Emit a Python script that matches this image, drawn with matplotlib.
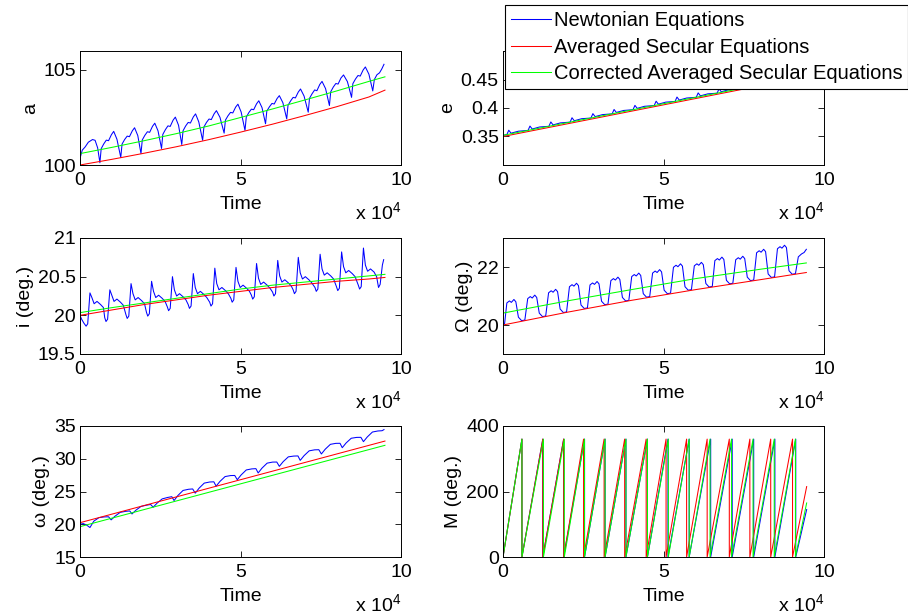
import matplotlib
matplotlib.use("Agg")
import matplotlib.pyplot as plt

plt.rcParams['font.family'] = ['Liberation Sans', 'DejaVu Sans']
plt.rcParams['mathtext.fontset'] = 'custom'
plt.rcParams['mathtext.rm'] = 'Liberation Sans'
plt.rcParams['mathtext.it'] = 'Liberation Sans:italic'

# ---------------- data (time in units of 1e4) ----------------
series_labels = ['Newtonian Equations', 'Averaged Secular Equations',
                 'Corrected Averaged Secular Equations']

# semi-major axis a
a_newton_t = [0, 0.07, 0.16, 0.26, 0.39, 0.47, 0.55, 0.62,
              0.66, 0.74, 0.82, 0.89, 0.98, 1.05, 1.15, 1.27,
              1.31, 1.39, 1.47, 1.54, 1.63, 1.70, 1.80, 1.90,
              1.94, 2.02, 2.10, 2.17, 2.26, 2.33, 2.43, 2.54,
              2.58, 2.66, 2.74, 2.81, 2.90, 2.97, 3.07, 3.17,
              3.21, 3.29, 3.37, 3.44, 3.53, 3.60, 3.70, 3.82,
              3.86, 3.94, 4.02, 4.09, 4.18, 4.25, 4.36, 4.49,
              4.53, 4.61, 4.69, 4.76, 4.85, 4.92, 5.02, 5.14,
              5.18, 5.26, 5.34, 5.41, 5.50, 5.57, 5.67, 5.78,
              5.82, 5.90, 5.98, 6.05, 6.14, 6.21, 6.32, 6.44,
              6.48, 6.56, 6.64, 6.71, 6.80, 6.87, 6.98, 7.11,
              7.15, 7.23, 7.31, 7.38, 7.47, 7.54, 7.65, 7.77,
              7.81, 7.89, 7.97, 8.04, 8.13, 8.21, 8.33, 8.46,
              8.50, 8.58, 8.66, 8.73, 8.82, 8.89, 9.00, 9.12,
              9.17, 9.25, 9.33, 9.40, 9.47]
a_newton = [100.35, 100.78, 100.95, 101.20, 101.34, 101.30, 100.90, 100.12,
            100.86, 101.11, 101.31, 101.28, 101.60, 101.77, 101.36, 100.40,
            101.10, 101.34, 101.52, 101.49, 101.80, 101.96, 101.55, 100.60,
            101.32, 101.56, 101.75, 101.72, 102.04, 102.20, 101.80, 100.87,
            101.61, 101.86, 102.06, 102.03, 102.36, 102.52, 102.09, 101.08,
            101.80, 102.05, 102.24, 102.21, 102.53, 102.69, 102.27, 101.30,
            102.00, 102.24, 102.42, 102.39, 102.70, 102.86, 102.51, 101.68,
            102.36, 102.59, 102.77, 102.74, 103.05, 103.20, 102.79, 101.82,
            102.52, 102.76, 102.94, 102.91, 103.22, 103.38, 103.02, 102.17,
            102.84, 103.06, 103.24, 103.21, 103.50, 103.65, 103.28, 102.43,
            103.14, 103.37, 103.56, 103.53, 103.84, 104.00, 103.63, 102.78,
            103.51, 103.75, 103.95, 103.91, 104.24, 104.40, 104.02, 103.13,
            103.85, 104.10, 104.29, 104.26, 104.58, 104.74, 104.39, 103.56,
            104.28, 104.52, 104.71, 104.68, 105.00, 105.16, 104.78, 103.90,
            104.50, 104.75, 104.85, 105.05, 105.30]
a_sec_t = [0, 1, 2, 3, 4, 5, 6, 7, 8, 9, 9.5]
a_avg = [100.0, 100.30, 100.62, 100.96, 101.33, 101.73, 102.15, 102.60, 103.07, 103.58, 103.94]
a_corr = [100.6, 100.93, 101.28, 101.65, 102.05, 102.50, 102.95, 103.42, 103.90, 104.40, 104.64]

# eccentricity e
e_newton_t = [0, 0.12, 0.18, 0.25, 0.48,
              0.78, 0.84, 0.91, 1.14,
              1.43, 1.49, 1.56, 1.79,
              2.09, 2.15, 2.22, 2.45,
              2.74, 2.80, 2.87, 3.10,
              3.40, 3.46, 3.53, 3.76,
              4.05, 4.11, 4.18, 4.41,
              4.71, 4.77, 4.84, 5.07,
              5.36, 5.42, 5.49, 5.72,
              6.02, 6.08, 6.15, 6.38,
              6.67, 6.73, 6.80, 7.03,
              7.33, 7.39, 7.46, 7.69,
              7.98, 8.04, 8.11, 8.34,
              8.64, 8.70, 8.77, 9.00,
              9.29, 9.35, 9.42, 9.47]
e_newton = [0.3520, 0.3533, 0.3610, 0.3558, 0.3593,
            0.3607, 0.3683, 0.3631, 0.3667,
            0.3679, 0.3755, 0.3703, 0.3739,
            0.3752, 0.3829, 0.3776, 0.3812,
            0.3824, 0.3901, 0.3849, 0.3884,
            0.3897, 0.3974, 0.3922, 0.3957,
            0.3970, 0.4046, 0.3994, 0.4030,
            0.4043, 0.4119, 0.4067, 0.4103,
            0.4115, 0.4192, 0.4139, 0.4175,
            0.4188, 0.4265, 0.4213, 0.4248,
            0.4260, 0.4337, 0.4285, 0.4320,
            0.4334, 0.4410, 0.4358, 0.4394,
            0.4406, 0.4482, 0.4430, 0.4466,
            0.4479, 0.4556, 0.4503, 0.4539,
            0.4551, 0.4628, 0.4576, 0.4571]
e_sec_t = [0, 3, 6, 9.5]
e_avg = [0.350, 0.3833, 0.4166, 0.4555]
e_corr = [0.352, 0.3853, 0.4186, 0.4574]

# inclination i (deg.)
i_newton_t = [0, 0.05, 0.12,
              0.19, 0.24, 0.31, 0.37, 0.44, 0.53, 0.64, 0.73, 0.77,
              0.81, 0.86, 0.93, 0.99, 1.06, 1.15, 1.26, 1.35, 1.43,
              1.47, 1.52, 1.59, 1.65, 1.72, 1.81, 1.92, 2.01, 2.07,
              2.11, 2.16, 2.23, 2.29, 2.36, 2.45, 2.56, 2.65, 2.72,
              2.76, 2.81, 2.88, 2.94, 3.01, 3.10, 3.21, 3.30, 3.37,
              3.41, 3.46, 3.53, 3.59, 3.66, 3.75, 3.86, 3.95, 4.04,
              4.08, 4.13, 4.20, 4.26, 4.33, 4.42, 4.53, 4.62, 4.70,
              4.74, 4.79, 4.86, 4.92, 4.99, 5.08, 5.19, 5.28, 5.34,
              5.38, 5.43, 5.50, 5.56, 5.63, 5.72, 5.83, 5.92, 6.00,
              6.04, 6.09, 6.16, 6.22, 6.29, 6.38, 6.49, 6.58, 6.64,
              6.68, 6.73, 6.80, 6.86, 6.93, 7.02, 7.13, 7.22, 7.32,
              7.36, 7.41, 7.48, 7.54, 7.61, 7.70, 7.81, 7.90, 7.99,
              8.03, 8.08, 8.15, 8.21, 8.28, 8.37, 8.48, 8.57, 8.67,
              8.71, 8.76, 8.83, 8.89, 8.96, 9.05, 9.16, 9.24,
              9.30, 9.35, 9.42, 9.46]
i_newton = [20.00, 19.95, 19.90,
            19.86, 19.89, 20.29, 20.23, 20.15, 20.18, 20.14, 20.10, 19.97,
            19.92, 19.95, 20.33, 20.26, 20.18, 20.21, 20.17, 20.13, 20.01,
            19.96, 19.99, 20.41, 20.28, 20.20, 20.23, 20.19, 20.15, 20.04,
            19.99, 20.02, 20.44, 20.31, 20.23, 20.26, 20.22, 20.18, 20.11,
            20.06, 20.09, 20.50, 20.33, 20.25, 20.28, 20.24, 20.20, 20.14,
            20.09, 20.12, 20.54, 20.36, 20.28, 20.31, 20.27, 20.23, 20.17,
            20.12, 20.15, 20.61, 20.41, 20.33, 20.36, 20.32, 20.28, 20.22,
            20.17, 20.20, 20.62, 20.44, 20.36, 20.39, 20.35, 20.31, 20.26,
            20.21, 20.24, 20.67, 20.48, 20.40, 20.43, 20.39, 20.35, 20.30,
            20.25, 20.28, 20.71, 20.51, 20.43, 20.46, 20.42, 20.38, 20.33,
            20.28, 20.31, 20.75, 20.55, 20.47, 20.50, 20.46, 20.42, 20.36,
            20.31, 20.34, 20.79, 20.60, 20.52, 20.55, 20.51, 20.47, 20.37,
            20.32, 20.35, 20.82, 20.63, 20.55, 20.58, 20.54, 20.50, 20.39,
            20.34, 20.37, 20.87, 20.65, 20.57, 20.60, 20.56, 20.50,
            20.36, 20.40, 20.65, 20.72]
i_sec_t = [0, 1, 2, 3, 4, 5, 6, 7, 8, 9, 9.5]
i_avg = [20.0, 20.07, 20.14, 20.20, 20.26, 20.31, 20.36, 20.40, 20.44, 20.47, 20.49]
i_corr = [20.035, 20.10, 20.16, 20.22, 20.28, 20.34, 20.39, 20.43, 20.47, 20.51, 20.53]

# longitude of node Omega (deg.)
O_newton_t = [0, 0.05,
              0.12, 0.20, 0.26, 0.34, 0.40, 0.48, 0.58, 0.68,
              0.77, 0.85, 0.91, 0.99, 1.05, 1.13, 1.23, 1.33,
              1.42, 1.50, 1.56, 1.64, 1.70, 1.78, 1.88, 1.98,
              2.07, 2.15, 2.21, 2.29, 2.35, 2.43, 2.53, 2.63,
              2.71, 2.79, 2.85, 2.93, 2.99, 3.07, 3.17, 3.27,
              3.36, 3.44, 3.50, 3.58, 3.64, 3.72, 3.82, 3.92,
              4.01, 4.09, 4.15, 4.23, 4.29, 4.37, 4.47, 4.57,
              4.66, 4.74, 4.80, 4.88, 4.94, 5.02, 5.12, 5.22,
              5.31, 5.39, 5.45, 5.53, 5.59, 5.67, 5.77, 5.87,
              5.96, 6.04, 6.10, 6.18, 6.24, 6.32, 6.42, 6.52,
              6.60, 6.68, 6.74, 6.82, 6.88, 6.96, 7.06, 7.16,
              7.25, 7.33, 7.39, 7.47, 7.53, 7.61, 7.71, 7.81,
              7.90, 7.98, 8.04, 8.12, 8.18, 8.26, 8.36, 8.46,
              8.55, 8.63, 8.69, 8.77, 8.83, 8.91, 9.01, 9.11,
              9.20, 9.30, 9.38, 9.45]
O_newton = [20.00, 20.05,
            20.76, 20.83, 20.78, 20.88, 20.80, 20.27, 20.15, 20.17,
            20.91, 20.98, 20.93, 21.03, 20.95, 20.41, 20.29, 20.31,
            21.11, 21.18, 21.13, 21.23, 21.15, 20.55, 20.43, 20.45,
            21.32, 21.39, 21.34, 21.44, 21.36, 20.69, 20.57, 20.59,
            21.38, 21.45, 21.40, 21.50, 21.42, 20.82, 20.70, 20.72,
            21.53, 21.60, 21.55, 21.65, 21.57, 20.95, 20.83, 20.85,
            21.67, 21.74, 21.69, 21.79, 21.71, 21.08, 20.96, 20.98,
            21.79, 21.86, 21.81, 21.91, 21.83, 21.20, 21.08, 21.10,
            21.99, 22.06, 22.01, 22.11, 22.03, 21.32, 21.20, 21.22,
            22.04, 22.11, 22.06, 22.16, 22.08, 21.43, 21.31, 21.33,
            22.22, 22.29, 22.24, 22.34, 22.26, 21.54, 21.42, 21.44,
            22.25, 22.32, 22.27, 22.37, 22.29, 21.65, 21.53, 21.55,
            22.49, 22.56, 22.51, 22.61, 22.53, 21.76, 21.64, 21.66,
            22.63, 22.70, 22.65, 22.75, 22.67, 21.87, 21.75, 21.77,
            22.35, 22.45, 22.50, 22.61]
O_sec_t = [0, 2, 4, 6, 8, 9.45]
O_avg = [20.0, 20.44, 20.85, 21.22, 21.56, 21.81]
O_corr = [20.41, 20.83, 21.22, 21.60, 21.92, 22.14]

# argument of periapsis omega (deg.)
w_newton_t = [0, 0.10, 0.20,
              0.31, 0.43, 0.59, 0.76, 0.89,
              0.97, 1.09, 1.25, 1.42, 1.55,
              1.62, 1.74, 1.90, 2.07, 2.20,
              2.28, 2.40, 2.56, 2.73, 2.86,
              2.93, 3.05, 3.21, 3.38, 3.51,
              3.59, 3.71, 3.87, 4.04, 4.17,
              4.24, 4.36, 4.52, 4.69, 4.82,
              4.90, 5.02, 5.18, 5.35, 5.48,
              5.55, 5.67, 5.83, 6.00, 6.13,
              6.21, 6.33, 6.49, 6.66, 6.79,
              6.86, 6.98, 7.14, 7.31, 7.44,
              7.52, 7.64, 7.80, 7.97, 8.10,
              8.17, 8.29, 8.45, 8.62, 8.75,
              8.83, 8.95, 9.11, 9.28, 9.41,
              9.47]
w_newton = [20.00, 20.10, 19.90,
            19.50, 20.47, 21.01, 21.12, 21.14,
            20.67, 21.23, 21.81, 21.97, 22.03,
            21.57, 22.14, 22.72, 22.91, 23.02,
            22.60, 23.22, 23.87, 24.09, 24.21,
            23.62, 24.39, 25.16, 25.34, 25.39,
            24.75, 25.51, 26.28, 26.45, 26.48,
            25.81, 26.54, 27.28, 27.43, 27.45,
            26.80, 27.53, 28.29, 28.45, 28.49,
            27.83, 28.57, 29.33, 29.49, 29.50,
            28.84, 29.56, 30.29, 30.41, 30.43,
            29.75, 30.47, 31.21, 31.36, 31.38,
            30.73, 31.46, 32.20, 32.35, 32.36,
            31.69, 32.41, 33.13, 33.26, 33.27,
            32.61, 33.33, 34.08, 34.24, 34.28,
            34.45]
w_sec_t = [0, 9.5]
w_avg = [20.24, 32.70]
w_corr = [19.63, 32.05]

# mean anomaly M (deg.): wrap times (value reaches 360 and restarts at 0)
M_wrap_newton = [0.59, 1.24, 1.89, 2.54, 3.18, 3.83, 4.50, 5.14, 5.80, 6.47, 7.14, 7.81, 8.47, 9.12]
M_wrap_avg = [0.59, 1.24, 1.89, 2.51, 3.15, 3.79, 4.46, 5.08, 5.72, 6.36, 7.05, 7.69, 8.34, 9.02]
M_wrap_corr = [0.59, 1.26, 1.91, 2.54, 3.18, 3.83, 4.50, 5.15, 5.80, 6.45, 7.12, 7.79, 8.45, 9.11]
M_start = 0.0
M_top = 360.0
M_end_t = 9.46
M_end_newton = 145.0
M_end_avg = 215.0
M_end_corr = 165.0

x_ticks = [0, 5, 10]
x_ticklabels = ['0', '5', '10']


def sawtooth(wraps, end_val):
    ts, vs = [0.0], [M_start]
    for w in wraps:
        ts += [w, w]
        vs += [M_top, 0.0]
    ts.append(M_end_t)
    vs.append(end_val)
    return ts, vs


# ---------------- figure ----------------
W, H = 908, 616
fig = plt.figure(figsize=(W / 100, H / 100), dpi=100)
fig.patch.set_facecolor('white')


def add_ax(x0, y0, x1, y1):
    return fig.add_axes([x0 / W, 1 - y1 / H, (x1 - x0) / W, (y1 - y0) / H])


FS = 14
LW = 0.75
C_N, C_A, C_C = (0, 0, 1), (1, 0, 0), (0, 1, 0)


def style(ax, ylabel, ylim, yticks, yticklabels=None):
    ax.set_xlim(0, 10)
    ax.set_ylim(*ylim)
    ax.set_xticks(x_ticks)
    ax.set_xticklabels(x_ticklabels)
    ax.set_yticks(yticks)
    if yticklabels is not None:
        ax.set_yticklabels(yticklabels)
    ax.tick_params(direction='in', top=True, right=True, length=4, width=0.6,
                   labelsize=FS)
    ax.tick_params(axis='x', pad=5)
    ax.tick_params(axis='y', pad=3)
    for s in ax.spines.values():
        s.set_linewidth(0.7)
    ax.set_xlabel('Time', fontsize=FS, labelpad=5)
    ax.set_ylabel(ylabel, fontsize=FS, labelpad=3)
    ax.annotate('x 10$^{4}$', xy=(1, 0), xycoords='axes fraction',
                xytext=(0, -47), textcoords='offset pixels',
                ha='right', va='center', fontsize=FS)


ax_a = add_ax(80, 51, 401, 165)
ax_e = add_ax(503, 51, 824, 165)
ax_i = add_ax(80, 238, 401, 354)
ax_O = add_ax(503, 238, 824, 354)
ax_w = add_ax(80, 426, 401, 557)
ax_M = add_ax(503, 426, 824, 557)

h1, = ax_a.plot(a_newton_t, a_newton, color=C_N, lw=LW)
h2, = ax_a.plot(a_sec_t, a_avg, color=C_A, lw=LW)
h3, = ax_a.plot(a_sec_t, a_corr, color=C_C, lw=LW)
style(ax_a, 'a', (100, 106), [100, 105])

ax_e.plot(e_newton_t, e_newton, color=C_N, lw=LW)
ax_e.plot(e_sec_t, e_avg, color=C_A, lw=LW)
ax_e.plot(e_sec_t, e_corr, color=C_C, lw=LW)
style(ax_e, 'e', (0.3, 0.5), [0.35, 0.4, 0.45], ['0.35', '0.4', '0.45'])

ax_i.plot(i_newton_t, i_newton, color=C_N, lw=LW)
ax_i.plot(i_sec_t, i_avg, color=C_A, lw=LW)
ax_i.plot(i_sec_t, i_corr, color=C_C, lw=LW)
style(ax_i, 'i (deg.)', (19.5, 21), [19.5, 20, 20.5, 21], ['19.5', '20', '20.5', '21'])

ax_O.plot(O_newton_t, O_newton, color=C_N, lw=LW)
ax_O.plot(O_sec_t, O_avg, color=C_A, lw=LW)
ax_O.plot(O_sec_t, O_corr, color=C_C, lw=LW)
style(ax_O, 'Ω (deg.)', (19, 23), [20, 22])

ax_w.plot(w_newton_t, w_newton, color=C_N, lw=LW)
ax_w.plot(w_sec_t, w_avg, color=C_A, lw=LW)
ax_w.plot(w_sec_t, w_corr, color=C_C, lw=LW)
style(ax_w, 'ω (deg.)', (15, 35), [15, 20, 25, 30, 35])

for wraps, endv, c in [(M_wrap_newton, M_end_newton, C_N),
                       (M_wrap_avg, M_end_avg, C_A),
                       (M_wrap_corr, M_end_corr, C_C)]:
    ts, vs = sawtooth(wraps, endv)
    ax_M.plot(ts, vs, color=c, lw=LW)
style(ax_M, 'M (deg.)', (0, 400), [0, 200, 400])

leg = fig.legend([h1, h2, h3], series_labels, loc='upper left',
                 bbox_to_anchor=(505 / W, 1 - 5 / H), bbox_transform=fig.transFigure,
                 fontsize=14.5, frameon=True, fancybox=False, edgecolor='black',
                 framealpha=1, borderpad=0.3, handlelength=2.0, handletextpad=0.12,
                 labelspacing=0.38, borderaxespad=0)
leg.get_frame().set_linewidth(0.8)

fig.savefig('out.png', dpi=100, facecolor='white')
